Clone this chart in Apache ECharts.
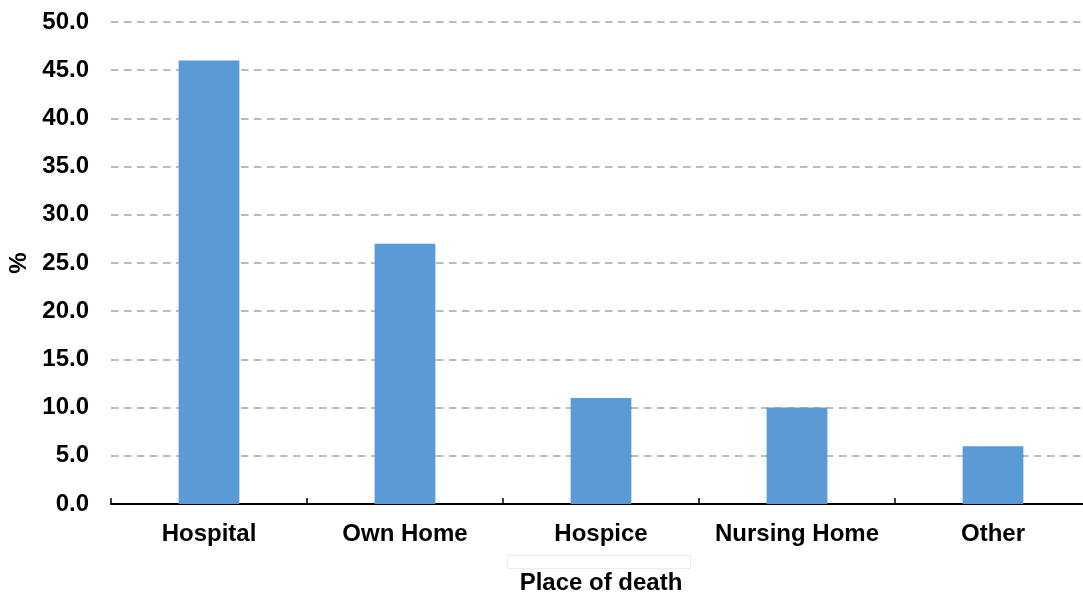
<!DOCTYPE html>
<html>
<head>
<meta charset="utf-8">
<script src="https://cdn.jsdelivr.net/npm/echarts@6/dist/echarts.min.js"></script>
<style>
  html, body { margin: 0; padding: 0; background: #fff; }
  #chart { width: 1083px; height: 596px; }
</style>
</head>
<body>
<div id="chart"></div>
<script>
// Place of death, percentage of deaths
const categories = ['Hospital', 'Own Home', 'Hospice', 'Nursing Home', 'Other'];
const percentages = [46, 27, 11, 10, 6];
const yTicks = { min: 0, max: 50, interval: 5 };

const font = 'Liberation Sans, Arial, sans-serif';
const chart = echarts.init(document.getElementById('chart'), null, { renderer: 'canvas' });

chart.setOption({
  animation: false,
  grid: {
    left: 111, right: -8, top: 22, bottom: 92,
    containLabel: false,
    outerBoundsMode: 'none'
  },
  xAxis: {
    type: 'category',
    data: categories,
    name: 'Place of death',
    nameLocation: 'middle',
    nameGap: 67,
    nameTextStyle: { fontFamily: font, fontWeight: 'bold', fontSize: 24, color: '#000' },
    axisLine: { lineStyle: { color: '#000', width: 2 } },
    axisTick: {
      show: true, inside: true, interval: 0, alignWithLabel: false, length: 6,
      lineStyle: { color: '#000', width: 1.5 }
    },
    axisLabel: {
      interval: 0, hideOverlap: false,
      fontFamily: font, fontWeight: 'bold', fontSize: 24, color: '#000', margin: 18
    }
  },
  yAxis: {
    type: 'value',
    min: yTicks.min,
    max: yTicks.max,
    interval: yTicks.interval,
    name: '%',
    nameLocation: 'middle',
    nameRotate: 90,
    nameGap: 76,
    nameTextStyle: { fontFamily: font, fontWeight: 'bold', fontSize: 24, color: '#000' },
    axisLine: { show: false },
    axisTick: { show: false },
    axisLabel: {
      fontFamily: font, fontWeight: 'bold', fontSize: 24, color: '#000', margin: 22,
      formatter: v => v.toFixed(1)
    },
    splitLine: { lineStyle: { color: '#a6a6a6', width: 1.5, type: [7.5, 5.5] } }
  },
  series: [{
    type: 'bar',
    data: percentages,
    barWidth: '31%',
    itemStyle: { color: '#5b9bd5' }
  }],
  graphic: [{
    type: 'rect',
    shape: { x: 507.5, y: 555.5, width: 183, height: 13 },
    style: { fill: '#fff', stroke: '#ececec', lineWidth: 1 },
    z: -1
  }]
});
</script>
</body>
</html>
